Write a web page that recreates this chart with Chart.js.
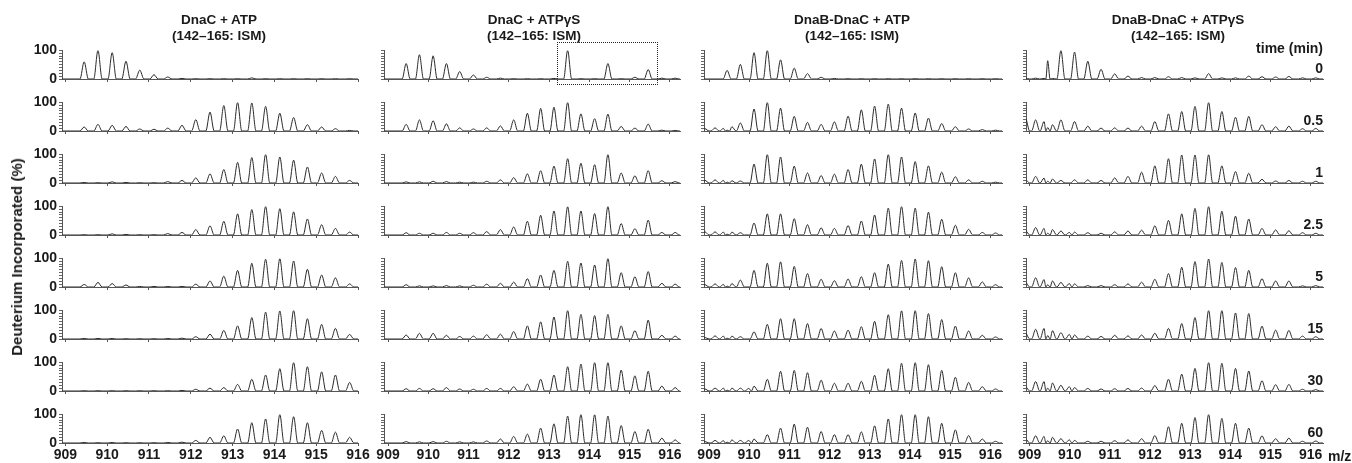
<!DOCTYPE html>
<html>
<head>
<meta charset="utf-8">
<script src="https://cdn.jsdelivr.net/npm/chart.js@4.4.1/dist/chart.umd.min.js"></script>
<style>
  body { margin: 0; background: #fff; width: 1352px; height: 463px; position: relative; overflow: hidden;
         font-family: "Liberation Sans", Arial, sans-serif; font-weight: bold; color: #1a1a1a; }
  canvas { position: absolute; }
  .t { position: absolute; white-space: nowrap; }
  .title { font-size: 13.5px; line-height: 16px; text-align: center; transform: translateX(-50%); top: 12px; }
  .lbl { font-size: 14px; line-height: 16px; }
</style>
</head>
<body>
<script>
// panel titles and time points
const columns = ['DnaC + ATP', 'DnaC + ATPγS', 'DnaB-DnaC + ATP', 'DnaB-DnaC + ATPγS'];
const subtitle = '(142–165: ISM)';
const times = ['0', '0.5', '1', '2.5', '5', '15', '30', '60'];
const mzTicks = [909, 910, 911, 912, 913, 914, 915, 916];
const yTicks = [0, 10, 20, 30, 40, 50, 60, 70, 80, 90, 100];
const yLabels = [0, 100];

// isotope peak positions (m/z, 3+ envelope)
const mzPeaks = [909.45, 909.78, 910.12, 910.45, 910.78, 911.12, 911.45, 911.79, 912.12, 912.46, 912.79,
                 913.12, 913.46, 913.79, 914.13, 914.46, 914.79, 915.13, 915.46, 915.80, 916.13];
// interfering low-mass signals (left edge + a second envelope)
const mzExtra = [908.9, 909.15, 909.36, 909.57, 909.99];

// relative intensities (%) per time point, one row per time
const dnacAtp = [
  [60, 100, 92, 62, 31, 15, 7, 2, 1, 1, 1, 1, 4, 1, 1, 1, 1, 1, 1, 1, 0],
  [14, 23, 20, 16, 7, 6, 10, 20, 40, 66, 89, 100, 98, 86, 62, 47, 22, 14, 8, 2, 0],
  [2, 1, 4, 2, 1, 1, 5, 9, 18, 32, 47, 72, 89, 100, 91, 80, 56, 35, 23, 9, 0],
  [1, 1, 4, 2, 1, 1, 5, 9, 19, 32, 48, 74, 89, 100, 92, 81, 56, 36, 23, 10, 0],
  [9, 16, 12, 7, 2, 2, 2, 2, 10, 21, 38, 58, 83, 97, 99, 91, 62, 42, 32, 11, 0],
  [2, 2, 2, 1, 1, 1, 2, 3, 8, 17, 30, 46, 75, 94, 98, 100, 71, 51, 37, 16, 0],
  [1, 1, 1, 1, 1, 1, 1, 2, 6, 10, 12, 23, 41, 56, 78, 100, 85, 67, 56, 30, 0],
  [2, 1, 2, 1, 1, 1, 2, 3, 9, 20, 25, 49, 71, 84, 100, 92, 71, 44, 38, 20, 0]
];
const dnacAtpgs = [
  [54, 85, 81, 54, 26, 14, 6, 3, 1, 1, 1, 2, 100, 1, 1, 54, 1, 6, 33, 3, 3],
  [23, 39, 36, 25, 11, 7, 11, 18, 39, 62, 79, 83, 100, 60, 43, 59, 16, 10, 24, 3, 2],
  [4, 4, 6, 5, 3, 3, 6, 11, 19, 32, 43, 59, 85, 69, 64, 100, 35, 25, 43, 8, 5],
  [8, 6, 6, 9, 6, 8, 12, 19, 28, 48, 69, 84, 99, 84, 75, 100, 40, 22, 52, 9, 9],
  [8, 4, 4, 5, 4, 6, 10, 13, 17, 29, 42, 58, 90, 84, 77, 100, 50, 36, 54, 13, 10],
  [14, 20, 20, 13, 9, 10, 15, 17, 26, 46, 60, 77, 100, 86, 82, 86, 46, 29, 66, 13, 10],
  [8, 9, 8, 12, 7, 6, 9, 9, 15, 24, 41, 56, 85, 94, 100, 100, 73, 53, 69, 17, 12],
  [5, 4, 5, 6, 4, 4, 7, 14, 23, 31, 52, 67, 94, 100, 99, 94, 61, 40, 48, 17, 11]
];
const dnabDnacAtp = [
  [30, 51, 92, 100, 67, 38, 19, 6, 2, 1, 1, 1, 1, 1, 1, 1, 1, 1, 1, 1, 1],
  [3, 28, 77, 100, 80, 51, 30, 23, 32, 52, 74, 87, 94, 80, 63, 45, 26, 15, 7, 5, 3],
  [3, 7, 66, 100, 91, 59, 35, 26, 31, 47, 66, 84, 100, 91, 75, 60, 38, 22, 11, 6, 3],
  [3, 8, 42, 74, 74, 57, 36, 25, 23, 33, 49, 70, 94, 100, 94, 80, 55, 34, 20, 9, 7],
  [3, 24, 58, 83, 88, 72, 47, 27, 22, 28, 36, 50, 80, 93, 98, 92, 71, 50, 32, 18, 8],
  [3, 8, 25, 51, 71, 71, 54, 37, 28, 31, 43, 62, 85, 99, 100, 89, 68, 45, 28, 13, 7],
  [3, 10, 17, 41, 69, 72, 64, 38, 27, 27, 34, 55, 78, 97, 100, 92, 72, 48, 30, 15, 7],
  [3, 9, 14, 29, 52, 66, 55, 40, 29, 29, 39, 60, 84, 100, 100, 92, 69, 46, 26, 14, 6]
];
const dnabDnacAtpExtra = [
  [0, 0, 0, 0, 0], [8, 11, 9, 15, 0], [9, 11, 9, 8, 0], [11, 11, 10, 10, 0],
  [8, 11, 9, 12, 0], [5, 11, 10, 10, 0], [7, 10, 10, 10, 9], [5, 9, 8, 11, 9]
];
const dnabDnacAtpgs = [
  [64, 100, 94, 62, 34, 18, 10, 5, 5, 8, 5, 4, 19, 4, 4, 10, 8, 7, 9, 4, 4],
  [12, 39, 33, 17, 10, 11, 10, 17, 33, 60, 68, 86, 100, 68, 48, 51, 22, 15, 17, 8, 9],
  [6, 9, 11, 11, 9, 18, 23, 38, 60, 85, 98, 98, 99, 60, 40, 34, 13, 7, 9, 6, 6],
  [6, 14, 10, 8, 6, 11, 14, 17, 32, 51, 74, 93, 100, 83, 66, 56, 23, 18, 15, 8, 6],
  [8, 16, 11, 5, 5, 8, 11, 17, 27, 47, 69, 89, 98, 86, 68, 58, 29, 21, 21, 4, 5],
  [12, 22, 14, 10, 9, 13, 11, 14, 20, 37, 54, 75, 100, 100, 91, 89, 45, 31, 30, 10, 8],
  [10, 20, 12, 9, 7, 8, 9, 10, 19, 41, 59, 79, 100, 97, 79, 70, 36, 22, 23, 6, 5],
  [8, 15, 9, 6, 6, 8, 11, 15, 26, 57, 69, 89, 100, 86, 69, 52, 25, 15, 17, 6, 7]
];
const dnabDnacAtpgsExtra = [
  [3, 3, 2, 2, 0], [43, 39, 33, 22, 0], [11, 23, 17, 14, 0], [15, 26, 23, 19, 9],
  [16, 32, 26, 21, 12], [20, 34, 37, 29, 16], [15, 33, 33, 28, 15], [14, 25, 23, 20, 11]
];

const series = [dnacAtp, dnacAtpgs, dnabDnacAtp, dnabDnacAtpgs];
const extras = [null, null, dnabDnacAtpExtra, dnabDnacAtpgsExtra];

// layout
const colLeft = [62, 384, 704, 1026];
const colWidth = [296, 296, 298, 297];
const colMin = [908.92, 908.9, 908.875, 908.91];
const colMax = [916.0, 916.25, 916.29, 916.31];
const titleX = [219, 534, 852, 1178];
const PEAK_HALF = 0.1;
const FONT = '"Liberation Sans", Arial, sans-serif';

Chart.defaults.font.family = FONT;

// line trace: each peak rises from the baseline to its intensity and back
function trace(heights, extra) {
  const peaks = mzPeaks.map((m, i) => [m, heights[i]]);
  if (extra) mzExtra.forEach((m, i) => { if (extra[i]) peaks.push([m, extra[i]]); });
  peaks.sort((a, b) => a[0] - b[0]);
  const pts = [{ x: 908.4, y: 0 }];
  peaks.forEach((p, i) => {
    const prev = peaks[i - 1], next = peaks[i + 1];
    const lo = prev ? Math.max(p[0] - PEAK_HALF, (prev[0] + p[0]) / 2) : p[0] - PEAK_HALF;
    const hi = next ? Math.min(p[0] + PEAK_HALF, (p[0] + next[0]) / 2) : p[0] + PEAK_HALF;
    if (pts[pts.length - 1].x < lo) pts.push({ x: lo, y: 0 });
    pts.push({ x: p[0], y: p[1] });
    pts.push({ x: hi, y: 0 });
  });
  pts.push({ x: 916.6, y: 0 });
  return pts;
}

function addText(cls, text, style) {
  const d = document.createElement('div');
  d.className = 't ' + cls;
  d.innerHTML = text;
  Object.assign(d.style, style);
  document.body.appendChild(d);
}

series.forEach((rows, c) => {
  rows.forEach((heights, r) => {
    const base = Math.round(79 + 52.05 * r);
    const cv = document.createElement('canvas');
    cv.width = 40 + colWidth[c] + 20;
    cv.height = 63;
    cv.style.left = (colLeft[c] - 40) + 'px';
    cv.style.top = (base - 29 - 10) + 'px';
    document.body.appendChild(cv);
    const last = r === rows.length - 1;
    new Chart(cv, {
      type: 'line',
      data: {
        datasets: [{
          data: trace(heights, extras[c] ? extras[c][r] : null),
          borderColor: '#2a2a2a',
          borderWidth: 1,
          pointRadius: 0,
          cubicInterpolationMode: 'monotone',
          fill: false
        }]
      },
      options: {
        responsive: false,
        animation: false,
        events: [],
        layout: { padding: { left: 4, top: 10, right: 20, bottom: 2 } },
        plugins: { legend: { display: false }, tooltip: { enabled: false } },
        scales: {
          x: {
            type: 'linear',
            min: colMin[c],
            max: colMax[c],
            afterBuildTicks: s => { s.ticks = mzTicks.map(v => ({ value: v })); },
            afterFit: s => { s.height = 22; },
            grid: { drawOnChartArea: false, drawTicks: true, tickLength: 3, color: '#555' },
            border: { color: '#555' },
            ticks: {
              display: last,
              autoSkip: false,
              maxRotation: 0,
              padding: 1,
              color: '#1a1a1a',
              font: { size: 14, weight: 'bold' }
            }
          },
          y: {
            min: 0,
            max: 100,
            afterBuildTicks: s => { s.ticks = yTicks.map(v => ({ value: v })); },
            afterFit: s => { s.width = 36; },
            grid: { drawOnChartArea: false, drawTicks: true, tickLength: 3, color: '#666' },
            border: { color: '#555' },
            ticks: {
              autoSkip: false,
              padding: 2,
              color: '#1a1a1a',
              font: { size: 14, weight: 'bold' },
              callback: v => (c === 0 && yLabels.includes(v)) ? String(v) : ''
            }
          }
        }
      }
    });
  });
});

// titles
columns.forEach((name, c) => {
  addText('title', name + '<br>' + subtitle, { left: titleX[c] + 'px' });
});

// y axis title
addText('lbl', 'Deuterium Incorporated (%)', {
  left: '17px', top: '257px', fontSize: '15px',
  transform: 'translate(-50%, -50%) rotate(-90deg)'
});

// time labels
addText('lbl', 'time (min)', { right: '29px', top: '40px' });
times.forEach((t, r) => {
  addText('lbl', t, { right: '29px', top: Math.round(67.5 + 52 * r - 8) + 'px' });
});

addText('lbl', 'm/z', { left: '1328px', top: '448px' });

// dotted box on the ATPγS zero-time panel
addText('', '', {
  left: '557px', top: '42px', width: '99px', height: '41px',
  border: '1px dotted #222'
});
</script>
</body>
</html>
